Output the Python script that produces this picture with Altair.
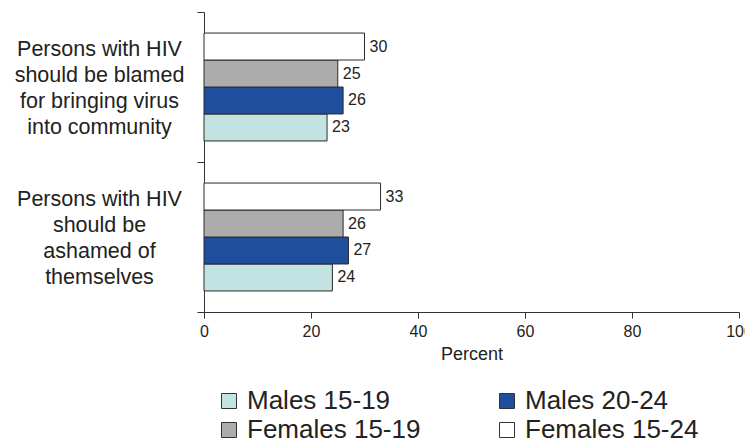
import altair as alt
import pandas as pd

statements = [
    "Persons with HIV|should be blamed|for bringing virus|into community",
    "Persons with HIV|should be|ashamed of|themselves",
]
series = ["Males 15-19", "Males 20-24", "Females 15-19", "Females 15-24"]
blamed = [23, 26, 25, 30]
ashamed = [24, 27, 26, 33]
colors = ["#c2e3e1", "#1f4e9d", "#acacac", "#ffffff"]

rows = []
for s, v in zip(series, blamed):
    rows.append({"statement": statements[0], "series": s, "value": v})
for s, v in zip(series, ashamed):
    rows.append({"statement": statements[1], "series": s, "value": v})
df = pd.DataFrame(rows)

FONT = "Liberation Sans"
offset_order = list(reversed(series))

y_enc = alt.Y(
    "statement:N",
    sort=statements,
    scale=alt.Scale(paddingInner=0, paddingOuter=0),
    axis=alt.Axis(
        title=None,
        labelExpr="split(datum.label, '|')",
        tickBand="extent",
        labelAlign="center",
        labelBaseline="middle",
        labelPadding=98,
        labelOffset=-38,
        tickSize=7,
        labelFontSize=21.5,
        labelLineHeight=26,
        labelColor="#222222",
        domainColor="#333333",
        tickColor="#333333",
        labelFont=FONT,
    ),
)
yoff = alt.YOffset(
    "series:N",
    sort=offset_order,
    scale=alt.Scale(paddingOuter=0.78, paddingInner=0),
)
x_enc = alt.X(
    "value:Q",
    scale=alt.Scale(domain=[0, 100]),
    axis=alt.Axis(
        title="Percent",
        values=[0, 20, 40, 60, 80, 100],
        grid=False,
        tickSize=6,
        labelFlush=False,
        labelFontSize=16,
        labelPadding=5,
        labelColor="#222222",
        titleFontSize=18,
        titleFontWeight="normal",
        titleColor="#222222",
        titlePadding=6,
        domainColor="#333333",
        tickColor="#333333",
        labelFont=FONT,
        titleFont=FONT,
    ),
)

bars = alt.Chart(df).mark_bar(stroke="#2a2a2a", strokeWidth=1).encode(
    x=x_enc,
    y=y_enc,
    yOffset=yoff,
    color=alt.Color(
        "series:N",
        sort=series,
        scale=alt.Scale(domain=series, range=colors),
        legend=alt.Legend(
            title=None,
            orient="none",
            direction="horizontal",
            legendX=12,
            legendY=376,
            columns=2,
            columnPadding=73,
            rowPadding=3,
            symbolType="square",
            symbolSize=225,
            symbolStrokeColor="#333333",
            symbolStrokeWidth=1,
            symbolOffset=0,
            labelOffset=5,
            labelFontSize=26,
            labelColor="#222222",
            labelFont=FONT,
            labelLimit=400,
        ),
    ),
)

labels = alt.Chart(df).mark_text(
    align="left", baseline="middle", dx=5, fontSize=16, font=FONT, color="#222222"
).encode(
    x="value:Q",
    y=alt.Y("statement:N", sort=statements),
    yOffset=alt.YOffset("series:N", sort=offset_order),
    text="value:Q",
)

chart = (
    alt.layer(bars, labels)
    .properties(
        width=535,
        height=300,
        autosize=alt.AutoSizeParams(type="none"),
        padding={"left": 196, "top": 4, "right": 6, "bottom": 126},
        background="white",
    )
    .configure_view(stroke=None)
)

chart.save("out.html", embed_options={"renderer": "svg", "actions": False})
